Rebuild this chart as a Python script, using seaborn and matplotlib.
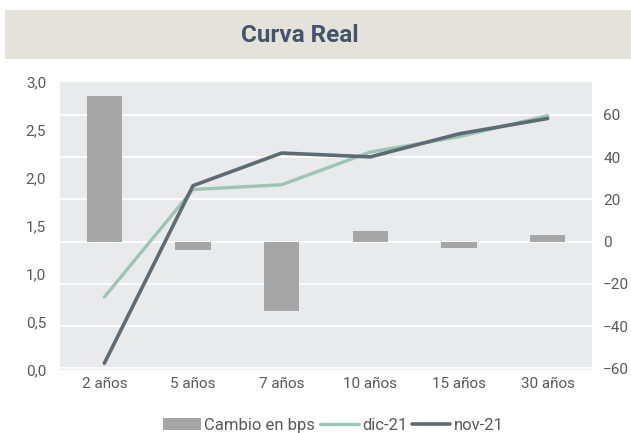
import matplotlib
matplotlib.use("Agg")
import matplotlib.pyplot as plt
from matplotlib.patches import Patch, Rectangle
from matplotlib.lines import Line2D
import numpy as np
import seaborn as sns

# datos de la curva real
plazos = ["2 años", "5 años", "7 años", "10 años", "15 años", "30 años"]
cambio_bps = [69, -4, -33, 5, -3, 3]
dic21 = [0.76, 1.88, 1.93, 2.27, 2.43, 2.65]
nov21 = [0.07, 1.92, 2.26, 2.22, 2.46, 2.62]

c_bar = "#a6a6a6"
c_dic = "#9cc5b3"
c_nov = "#5e6b73"
c_txt = "#595959"

sns.set_theme(style="darkgrid")
plt.rcParams["font.family"] = ["Roboto", "DejaVu Sans"]

fig = plt.figure(figsize=(6.31, 4.33), dpi=100)
fig.patch.set_facecolor("white")

# banda del titulo
fig.patches.append(Rectangle((5 / 631, 1 - 59 / 433), 626 / 631, 49 / 433,
                             transform=fig.transFigure, facecolor="#e5e2db",
                             edgecolor="none", zorder=0))
fig.text(300 / 631, 1 - 36 / 433, "Curva Real", ha="center", va="center",
         fontsize=17.5, fontweight="bold", color="#44546a")

ax = fig.add_axes([60 / 631, 63 / 433, 532 / 631, 288 / 433])
ax.set_facecolor("#e9eaec")

# barras en el eje derecho (bps)
sns.barplot(x=plazos, y=cambio_bps, ax=ax, color=c_bar, width=0.4,
            saturation=1, linewidth=0, zorder=2)
ax.set_ylim(-60.8, 75.5)
ax.set_yticks(np.arange(-60, 61, 20))
ax.grid(axis="y", color="white", linewidth=1.3)
ax.grid(axis="x", visible=False)

# lineas en el eje izquierdo (%)
ax2 = ax.twinx()
x = np.arange(len(plazos))
sns.lineplot(x=x, y=dic21, ax=ax2, color=c_dic, linewidth=2.4)
sns.lineplot(x=x, y=nov21, ax=ax2, color=c_nov, linewidth=2.6)
ax2.set_ylim(0, 3.0)
ticks_izq = np.arange(0, 3.01, 0.5)
ax2.set_yticks(ticks_izq)
ax2.set_yticklabels([f"{v:.1f}".replace(".", ",") for v in ticks_izq])
ax2.grid(False)
ax.set_xlim(-0.5, len(plazos) - 0.5)

# cambiar lados: bps a la derecha, % a la izquierda
ax.yaxis.tick_right()
ax.yaxis.set_label_position("right")
ax2.yaxis.tick_left()
ax2.yaxis.set_label_position("left")

for a in (ax, ax2):
    for s in a.spines.values():
        s.set_visible(False)
    a.tick_params(length=0, labelsize=11, colors=c_txt)
    a.set_xlabel("")
    a.set_ylabel("")
ax.tick_params(axis="y", pad=8)
ax2.tick_params(axis="y", pad=10)
ax.tick_params(axis="x", pad=5)

handles = [Patch(facecolor=c_bar, edgecolor="none"),
           Line2D([], [], color=c_dic, linewidth=2.4),
           Line2D([], [], color=c_nov, linewidth=2.6)]
fig.legend(handles, ["Cambio en bps", "dic-21", "nov-21"], loc="center",
           bbox_to_anchor=(0.528, 0.018), ncol=3, frameon=False,
           fontsize=12, labelcolor=c_txt, handlelength=2.3,
           handletextpad=0.2, columnspacing=0.3)

fig.savefig("out.png", dpi=100)
